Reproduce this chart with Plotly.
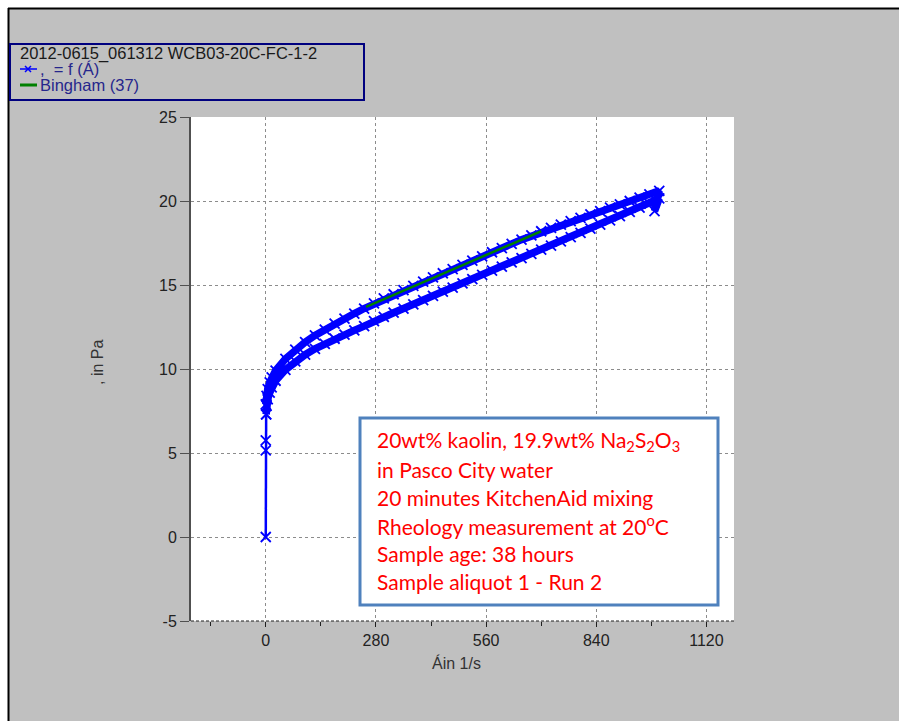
import plotly.graph_objects as go

# Flow curve: shear rate (1/s) and shear stress (Pa)
start_rate = [0, 0, 0, 1]
start_stress = [0.0, 5.15, 5.75, 7.3]
up_rate = [1, 2, 5, 10, 15, 25, 50, 75, 100, 125, 150, 175, 200, 225, 250,
           275, 300, 325, 350, 375, 400, 425, 450, 475, 500, 525, 550, 575, 600,
           625, 650, 675, 700, 725, 750, 775, 800, 825, 850, 875, 900, 925, 950,
           975, 1000]
up_stress = [7.3, 7.8, 8.2, 8.6, 8.9, 9.3, 9.95, 10.45, 10.85, 11.2, 11.5, 11.8,
             12.05, 12.3, 12.55, 12.85, 13.1, 13.35, 13.6, 13.85, 14.1, 14.35, 14.6,
             14.85, 15.1, 15.35, 15.6, 15.85, 16.1, 16.35, 16.6, 16.85, 17.1, 17.35,
             17.6, 17.85, 18.1, 18.35, 18.6, 18.85, 19.1, 19.35, 19.6, 19.85, 20.15]
turn_rate = [988]
turn_stress = [19.4]
down_rate = [1000, 975, 950, 925, 900, 875, 850, 825, 800, 775, 750, 725, 700, 675,
             650, 625, 600, 575, 550, 525, 500, 475, 450, 425, 400, 375, 350, 325,
             300, 275, 250, 225, 200, 175, 150, 125, 100, 75, 50, 25, 15, 10, 5, 2, 0]
down_stress = [20.6, 20.4, 20.2, 20.0, 19.8, 19.6, 19.4, 19.2, 19.0, 18.8, 18.6, 18.4,
               18.2, 17.95, 17.7, 17.45, 17.2, 16.95, 16.7, 16.45, 16.2, 15.95, 15.7,
               15.45, 15.2, 14.95, 14.7, 14.45, 14.2, 13.9, 13.6, 13.3, 13.0, 12.7,
               12.35, 12.0, 11.6, 11.15, 10.6, 9.9, 9.5, 9.2, 8.8, 8.4, 7.9]

# Bingham fit segment
bingham_rate = [255, 700]
bingham_stress = [13.7, 18.2]

legend_title = "2012-0615_061312 WCB03-20C-FC-1-2"
series_names = [",  = f (Á)", "Bingham (37)"]
x_ticks = [0, 280, 560, 840, 1120]
y_ticks = [-5, 0, 5, 10, 15, 20, 25]
y_tick_labels = ["-5", "0", "5", "10", "15", "20", "25"]
note_lines = [
    "20wt% kaolin, 19.9wt% Na<sub>2</sub>S<sub>2</sub>O<sub>3</sub>",
    "in Pasco City water",
    "20 minutes KitchenAid mixing",
    "Rheology measurement at 20<sup>o</sup>C",
    "Sample age: 38 hours",
    "Sample aliquot 1 - Run 2",
]

BLUE = "#0000FF"
GREEN = "#008000"
W, H = 899, 721
ML, MR, MT, MB = 191, 165, 117, 100
PW, PH = W - ML - MR, H - MT - MB


def px(x):
    return (x - ML) / PW


def py(y):
    return (H - MB - y) / PH


FONT = "Arial, Liberation Sans, sans-serif"
marker_style = dict(symbol="x-thin-open", size=10, color=BLUE,
                    line=dict(color=BLUE, width=1.8))

fig = go.Figure()
fig.add_trace(go.Scatter(
    x=start_rate, y=start_stress, mode="lines+markers", name=series_names[0],
    line=dict(color=BLUE, width=2.5), marker=marker_style, showlegend=False,
))
fig.add_trace(go.Scatter(
    x=up_rate + turn_rate + down_rate,
    y=up_stress + turn_stress + down_stress,
    mode="lines+markers", name=series_names[0], showlegend=False,
    line=dict(color=BLUE, width=7.5), marker=marker_style,
))
fig.add_trace(go.Scatter(
    x=bingham_rate, y=bingham_stress, mode="lines", name=series_names[1],
    line=dict(color=GREEN, width=2.5), showlegend=False,
))

shapes = [
    # white page margin and black frame edges
    dict(type="rect", xref="paper", yref="paper", x0=px(0), x1=px(W), y0=py(0), y1=py(8),
         fillcolor="white", line=dict(width=0), layer="above"),
    dict(type="rect", xref="paper", yref="paper", x0=px(0), x1=px(8), y0=py(0), y1=py(H),
         fillcolor="white", line=dict(width=0), layer="above"),
    dict(type="line", xref="paper", yref="paper", x0=px(8), x1=px(W), y0=py(8.5), y1=py(8.5),
         line=dict(color="black", width=2), layer="above"),
    dict(type="line", xref="paper", yref="paper", x0=px(8.5), x1=px(8.5), y0=py(8), y1=py(H),
         line=dict(color="black", width=2), layer="above"),
    # dashed bottom axis
    dict(type="line", xref="paper", yref="paper", x0=0, x1=1, y0=0, y1=0,
         line=dict(color="#202020", width=1, dash="3px,2px"), layer="above"),
    # legend frame and keys
    dict(type="rect", xref="paper", yref="paper", x0=px(10), x1=px(364), y0=py(44), y1=py(100),
         fillcolor="rgba(0,0,0,0)", line=dict(color="#00007F", width=2), layer="above"),
    dict(type="line", xref="paper", yref="paper", x0=px(20), x1=px(37), y0=py(69), y1=py(69),
         line=dict(color=BLUE, width=1.5), layer="above"),
    dict(type="path", xref="paper", yref="paper",
         path="M {} {} L {} {} M {} {} L {} {}".format(
             px(25), py(66), px(31), py(72), px(25), py(72), px(31), py(66)),
         line=dict(color=BLUE, width=1.5), layer="above"),
    dict(type="line", xref="paper", yref="paper", x0=px(20), x1=px(37), y0=py(85), y1=py(85),
         line=dict(color=GREEN, width=3), layer="above"),
    # note box
    dict(type="rect", xref="paper", yref="paper", x0=px(360), x1=px(718), y0=py(418), y1=py(605),
         fillcolor="white", line=dict(color="#4F81BD", width=3), layer="above"),
]

LEG = dict(family=FONT, size=16.5, color="#26268c")
annotations = [
    dict(text=legend_title, xref="paper", yref="paper", x=px(18), y=py(53),
         xanchor="left", yanchor="middle", showarrow=False,
         font=dict(family=FONT, size=16.5, color="#1a1a1a")),
    dict(text=series_names[0], xref="paper", yref="paper", x=px(38), y=py(69),
         xanchor="left", yanchor="middle", showarrow=False, font=LEG),
    dict(text=series_names[1], xref="paper", yref="paper", x=px(38), y=py(85),
         xanchor="left", yanchor="middle", showarrow=False, font=LEG),
    dict(text=", in Pa", xref="paper", yref="paper", x=px(97), y=py(363),
         xanchor="center", yanchor="middle", textangle=-90, showarrow=False,
         font=dict(family=FONT, size=16, color="#333333")),
    dict(text="Áin 1/s", xref="paper", yref="paper", x=px(456), y=py(663),
         xanchor="center", yanchor="middle", showarrow=False,
         font=dict(family=FONT, size=16, color="#333333")),
]
line_centers = [441, 469, 497, 525, 553, 581]
for txt, yc in zip(note_lines, line_centers):
    annotations.append(dict(
        text=txt, xref="paper", yref="paper", x=px(375), y=py(yc),
        xanchor="left", yanchor="middle", showarrow=False,
        font=dict(family="Lato, Open Sans, sans-serif", size=21, color="#FF0000")))

grid = dict(showgrid=True, gridcolor="#8c8c8c", gridwidth=1, griddash="3px,3px",
            zeroline=False)

fig.update_layout(
    width=W, height=H,
    margin=dict(l=ML, r=MR, t=MT, b=MB, pad=0, autoexpand=False),
    paper_bgcolor="#C0C0C0", plot_bgcolor="white",
    font=dict(family=FONT, size=16, color="#333333"),
    showlegend=False,
    xaxis=dict(range=[-190, 1190], tickvals=x_ticks, ticks="outside", ticklen=5,
               tickcolor="#202020", showline=False,
               minor=dict(dtick=140, tick0=0, ticks="outside", ticklen=4,
                          tickcolor="#202020", showgrid=False),
               tickfont=dict(family=FONT, size=16, color="#222222"), **grid),
    yaxis=dict(range=[-5, 25], tickvals=y_ticks, ticktext=y_tick_labels,
               ticks="outside", ticklen=9,
               tickcolor="#505050", showline=True, linecolor="#505050", linewidth=2,
               tickfont=dict(family=FONT, size=16, color="#222222"), **grid),
    shapes=shapes, annotations=annotations,
)

fig.write_html("out.html")
